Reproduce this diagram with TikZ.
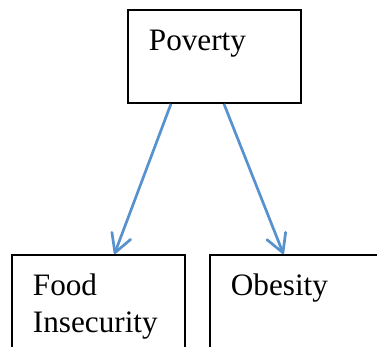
\documentclass[tikz,border=0pt]{standalone}
\usepackage{fontspec}
\setmainfont{Liberation Serif}
\usepackage{tikz}
\usetikzlibrary{arrows.meta,positioning}
\usepackage{xcolor}
\definecolor{linkblue}{RGB}{88,146,206}
\tikzstyle{factor} = [rectangle, draw=black, line width=1.9pt, anchor=north west, align=left, text width=131pt, inner xsep=21pt, inner ysep=0pt, text height=41pt, text depth=52pt, font=\fontsize{31.2}{37}\selectfont]
\tikzstyle{link} = [line width=2.7pt, color=linkblue, -{Straight Barb[length=18pt,width=20pt,line cap=round,line join=round]}]

\begin{document}
\begin{tikzpicture}[x=1pt, y=1pt]
\useasboundingbox (0,0) rectangle (377,-346);
\clip (0,0) rectangle (377,-346);

% Cause
\node (poverty) [factor] at (127,-9) {Poverty};

% Outcomes
\node (food) [factor] at (11,-254) {Food\\Insecurity};
\node (obesity) [factor] at (209,-254) {Obesity};

% Connections
\draw[link] ([xshift=-43.5pt]poverty.south) -- ([xshift=16pt]food.north);
\draw[link] ([xshift=9.5pt]poverty.south) -- ([xshift=-13pt]obesity.north);
\end{tikzpicture}
\end{document}
